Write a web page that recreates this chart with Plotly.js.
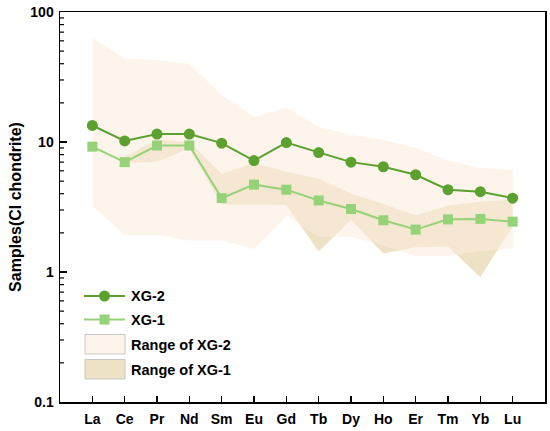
<!DOCTYPE html>
<html>
<head>
<meta charset="utf-8">
<script src="https://cdn.plot.ly/plotly-3.0.1.min.js"></script>
<style>html,body{margin:0;padding:0;background:#fff;}#chart{width:550px;height:431px;}</style>
</head>
<body>
<div id="chart"></div>
<script>
// Data
var elements = ['La','Ce','Pr','Nd','Sm','Eu','Gd','Tb','Dy','Ho','Er','Tm','Yb','Lu'];
var xg2 = [13.4, 10.2, 11.5, 11.5, 9.8, 7.2, 9.9, 8.3, 7.0, 6.45, 5.6, 4.3, 4.15, 3.7];
var xg1 = [9.2, 7.0, 9.4, 9.4, 3.7, 4.7, 4.3, 3.55, 3.05, 2.5, 2.12, 2.54, 2.56, 2.44];
var xg2Max = [63, 44, 42.5, 40, 23, 15.5, 18.4, 13.1, 11.3, 10.4, 9.0, 7.2, 6.3, 6.1];
var xg2Min = [3.2, 1.93, 1.93, 1.75, 1.75, 1.5, 2.7, 1.87, 1.87, 1.6, 1.33, 1.33, 1.45, 1.52];
var xg1Max = [null, 7.7, 10.4, 10.0, 5.7, 6.9, 5.9, 5.25, 4.0, 3.35, 2.72, 3.25, 3.47, 3.6];
var xg1Min = [null, 6.9, 7.05, 8.9, 3.3, 3.28, 3.28, 1.44, 2.51, 1.39, 1.55, 1.57, 0.91, 2.25];
var seriesNames = ['XG-2', 'XG-1', 'Range of XG-2', 'Range of XG-1'];
var majorTicks = [0.1, 1, 10, 100];
var minorTicks = [0.2,0.3,0.4,0.5,0.6,0.7,0.8,0.9, 2,3,4,5,6,7,8,9, 20,30,40,50,60,70,80,90];

var C2 = 'rgb(92,160,48)', C1 = 'rgb(150,210,120)';
var F2 = 'rgba(251,236,222,0.57)', F1 = 'rgb(237,226,196)';
var FONT = 'Arial, "Liberation Sans", sans-serif';

function band(upper, lower) {
  var xs = [], ys = [], i;
  for (i = 0; i < elements.length; i++) {
    if (upper[i] != null) { xs.push(elements[i]); ys.push(upper[i]); }
  }
  for (i = elements.length - 1; i >= 0; i--) {
    if (lower[i] != null) { xs.push(elements[i]); ys.push(lower[i]); }
  }
  return {x: xs, y: ys};
}
var b1 = band(xg1Max, xg1Min);
var b2 = band(xg2Max, xg2Min);

var traces = [
  {x: b1.x, y: b1.y, type: 'scatter', mode: 'lines', fill: 'toself',
   fillcolor: F1, line: {width: 0, color: 'rgba(0,0,0,0)'}, name: seriesNames[3], showlegend: false},
  {x: b2.x, y: b2.y, type: 'scatter', mode: 'lines', fill: 'toself',
   fillcolor: F2, line: {width: 0, color: 'rgba(0,0,0,0)'}, name: seriesNames[2], showlegend: false},
  {x: elements, y: xg1, type: 'scatter', mode: 'lines+markers', name: seriesNames[1],
   line: {color: C1, width: 2}, marker: {symbol: 'square', size: 10, color: C1}, showlegend: false},
  {x: elements, y: xg2, type: 'scatter', mode: 'lines+markers', name: seriesNames[0],
   line: {color: C2, width: 2}, marker: {symbol: 'circle', size: 11, color: C2}, showlegend: false}
];

// manual legend (pixel layout converted to paper coords)
var L = 60, W = 485, B = 402, H = 390;
function px(x) { return (x - L) / W; }
function py(y) { return (B - y) / H; }
var shapes = [
  {type: 'line', xref: 'paper', yref: 'paper', x0: px(84), x1: px(125), y0: py(296), y1: py(296), line: {color: C2, width: 2}},
  {type: 'circle', xref: 'paper', yref: 'paper', xsizemode: 'pixel', ysizemode: 'pixel',
   xanchor: px(104.5), yanchor: py(296), x0: -5.5, x1: 5.5, y0: -5.5, y1: 5.5, fillcolor: C2, line: {width: 0}},
  {type: 'line', xref: 'paper', yref: 'paper', x0: px(84), x1: px(125), y0: py(319.5), y1: py(319.5), line: {color: C1, width: 2}},
  {type: 'rect', xref: 'paper', yref: 'paper', xsizemode: 'pixel', ysizemode: 'pixel',
   xanchor: px(104.5), yanchor: py(319.5), x0: -5, x1: 5, y0: -5, y1: 5, fillcolor: C1, line: {width: 0}},
  {type: 'rect', xref: 'paper', yref: 'paper', x0: px(85), x1: px(125), y0: py(354), y1: py(334.5),
   fillcolor: 'rgb(253,244,236)', line: {color: 'rgb(200,200,200)', width: 1}},
  {type: 'rect', xref: 'paper', yref: 'paper', x0: px(85), x1: px(125), y0: py(379), y1: py(359.5),
   fillcolor: F1, line: {color: 'rgb(200,200,200)', width: 1}}
];
// minor ticks on the log y axis (inside), positioned through the y axis
minorTicks.forEach(function(v) {
  shapes.push({type: 'line', xref: 'paper', yref: 'y', xsizemode: 'pixel', xanchor: 0,
    x0: 0, x1: 4, y0: v, y1: v, line: {color: '#000', width: 1.2}});
});
var legY = [296, 319.5, 345, 370];
var annotations = seriesNames.map(function(n, i) {
  return {xref: 'paper', yref: 'paper', x: px(129), y: py(legY[i]), xanchor: 'left', yanchor: 'middle',
    text: n, showarrow: false, font: {family: FONT, size: 14.5, color: '#000', weight: 'bold'}};
});

var layout = {
  width: 550, height: 431,
  margin: {l: 60, r: 5, t: 12, b: 29},
  paper_bgcolor: '#fff', plot_bgcolor: '#fff',
  font: {family: FONT, size: 14, color: '#000', weight: 'bold'},
  showlegend: false,
  shapes: shapes, annotations: annotations,
  xaxis: {type: 'category', categoryorder: 'array', categoryarray: elements, range: [-1, 14],
    showline: true, linecolor: '#000', linewidth: 1.5,
    mirror: true, ticks: 'inside', ticklen: 6, tickwidth: 1.5, tickcolor: '#000',
    ticklabelstandoff: 4,
    showgrid: false, zeroline: false,
    tickfont: {family: FONT, size: 14, color: '#000', weight: 'bold'}},
  yaxis: {type: 'log', range: [-1, 2], showline: true, linecolor: '#000', linewidth: 1.5,
    mirror: true, ticks: 'inside', ticklen: 7, tickwidth: 1.5, tickcolor: '#000',
    tickmode: 'array', tickvals: majorTicks, ticktext: majorTicks.map(String),
    ticklabelstandoff: 2,
    showgrid: false, zeroline: false,
    tickfont: {family: FONT, size: 14, color: '#000', weight: 'bold'},
    title: {text: 'Samples(CI chondrite)', standoff: 4,
      font: {family: FONT, size: 16, color: '#000', weight: 'bold'}}}
};

Plotly.newPlot('chart', traces, layout, {staticPlot: true, displayModeBar: false});
</script>
</body>
</html>
